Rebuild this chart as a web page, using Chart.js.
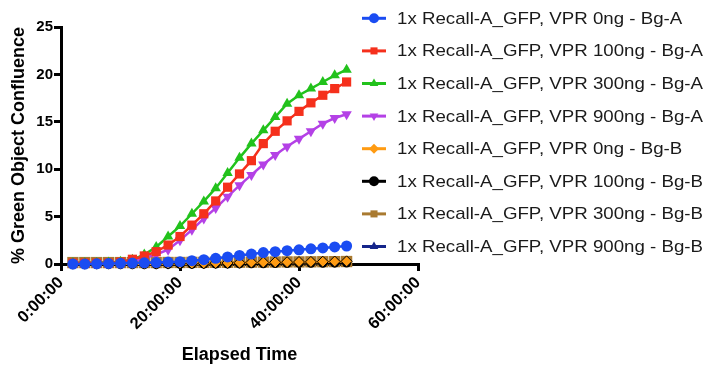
<!DOCTYPE html>
<html>
<head>
<meta charset="utf-8">
<script src="https://cdn.jsdelivr.net/npm/chart.js@4.4.0/dist/chart.umd.min.js"></script>
<style>
html,body{margin:0;padding:0;background:#fff;}
#wrap{width:704px;height:369px;position:relative;}
</style>
</head>
<body>
<div id="wrap"><canvas id="c" width="704" height="369"></canvas></div>
<script>
const hours = [2,4,6,8,10,12,14,16,18,20,22,24,26,28,30,32,34,36,38,40,42,44,46,48];
const seriesNames = [
  "1x Recall-A_GFP, VPR 0ng - Bg-A",
  "1x Recall-A_GFP, VPR 100ng - Bg-A",
  "1x Recall-A_GFP, VPR 300ng - Bg-A",
  "1x Recall-A_GFP, VPR 900ng - Bg-A",
  "1x Recall-A_GFP, VPR 0ng - Bg-B",
  "1x Recall-A_GFP, VPR 100ng - Bg-B",
  "1x Recall-A_GFP, VPR 300ng - Bg-B",
  "1x Recall-A_GFP, VPR 900ng - Bg-B"
];
const vpr0A   = [0.0,0.0,0.02,0.05,0.07,0.1,0.12,0.15,0.2,0.25,0.35,0.45,0.6,0.75,0.9,1.05,1.2,1.3,1.4,1.5,1.6,1.7,1.8,1.9];
const vpr100A = [0.1,0.1,0.1,0.1,0.2,0.5,0.85,1.3,2.0,2.9,4.1,5.3,6.65,8.1,9.5,10.9,12.7,14.0,15.1,16.1,17.0,17.8,18.5,19.2];
const vpr300A = [0.1,0.1,0.1,0.15,0.25,0.45,1.0,1.8,2.9,4.0,5.3,6.6,8.0,9.6,11.2,12.7,14.1,15.5,16.9,17.8,18.5,19.2,19.9,20.5];
const vpr900A = [0.1,0.1,0.1,0.1,0.15,0.3,0.6,1.0,1.5,2.5,3.6,4.8,5.9,7.1,8.3,9.4,10.5,11.5,12.4,13.2,14.0,14.8,15.4,15.8];
const vpr0B   = [0.03,0.03,0.03,0.03,0.03,0.03,0.03,0.03,0.04,0.05,0.06,0.08,0.1,0.11,0.13,0.15,0.16,0.18,0.19,0.21,0.22,0.24,0.26,0.28];
const vpr100B = [-0.05,-0.05,-0.05,-0.05,-0.05,-0.05,-0.05,-0.05,-0.04,-0.04,-0.03,-0.02,-0.01,0.0,0.01,0.02,0.03,0.04,0.05,0.06,0.07,0.08,0.09,0.1];
const vpr300B = [0.15,0.15,0.15,0.15,0.15,0.15,0.15,0.15,0.16,0.16,0.17,0.17,0.18,0.18,0.19,0.2,0.2,0.21,0.22,0.22,0.23,0.24,0.25,0.26];
const vpr900B = [0.0,0.0,0.0,0.0,0.0,0.0,0.0,0.0,0.0,0.01,0.01,0.01,0.02,0.02,0.02,0.03,0.03,0.03,0.04,0.04,0.05,0.05,0.06,0.06];
const yTicks = [0,5,10,15,20,25];
const xTicks = [0,20,40,60];

const allValues = [vpr0A,vpr100A,vpr300A,vpr900A,vpr0B,vpr100B,vpr300B,vpr900B];
const colors = ["#1a4cf2","#f5301c","#22c21c","#b441e6","#ff9b12","#000000","#a97a30","#15258a"];
const shapes = ["circle","rect","triangle","triangle","rectRot","circle","rect","triangle"];
const rotations = [0,0,0,180,0,0,0,0];
const radii = [5.5,6.5,6,6,5.5,4.5,8,5.5];

const datasets = allValues.map((vals,i)=>({
  label: seriesNames[i],
  data: vals.map((v,j)=>({x:hours[j], y:v})),
  borderColor: colors[i],
  backgroundColor: colors[i],
  borderWidth: 2.5,
  pointStyle: shapes[i],
  pointRotation: rotations[i],
  pointRadius: radii[i],
  pointBorderWidth: i===4 ? 1 : 0,
  pointBorderColor: i===4 ? "#000" : colors[i],
  tension: 0,
  clip: false
}));

const FONT = "'Liberation Sans', Arial, sans-serif";

const legendPlugin = {
  id: 'customLegend',
  afterDraw(chart){
    const ctx = chart.ctx;
    const x0 = 362, x1 = 386, tx = 397;
    const yStart = 18.3, dy = 32.6;
    ctx.save();
    chart.data.datasets.forEach((ds,i)=>{
      const y = yStart + dy*i;
      ctx.strokeStyle = ds.borderColor;
      ctx.lineWidth = 3;
      ctx.beginPath(); ctx.moveTo(x0,y); ctx.lineTo(x1,y); ctx.stroke();
      ctx.fillStyle = ds.backgroundColor;
      ctx.strokeStyle = ds.backgroundColor;
      Chart.helpers.drawPoint(ctx, {pointStyle: ds.pointStyle, rotation: ds.pointRotation, radius: 5, borderWidth: 0}, (x0+x1)/2, y);
      ctx.save();
      ctx.translate(tx, y + 1);
      ctx.scale(1.14, 1);
      ctx.fillStyle = "#1a1a1a";
      ctx.font = "16.4px " + FONT;
      ctx.textBaseline = "middle";
      ctx.textAlign = "left";
      ctx.fillText(ds.label, 0, 0);
      ctx.restore();
    });
    ctx.restore();
  }
};

new Chart(document.getElementById('c'), {
  type: 'line',
  data: { datasets },
  options: {
    responsive: false,
    animation: false,
    layout: { padding: { left: 0, top: 27, right: 286, bottom: 0 } },
    plugins: { legend: { display: false }, tooltip: { enabled: false } },
    scales: {
      x: {
        type: 'linear', min: 0, max: 60,
        afterBuildTicks(s){ s.ticks = xTicks.map(v=>({value:v})); },
        afterFit(s){ s.height = 105; },
        ticks: {
          color: '#000', maxRotation: 45, minRotation: 45, padding: 2,
          font: { family: FONT, size: 16.5, weight: 'bold' },
          callback: v => v + ':00:00'
        },
        grid: { display: true, drawOnChartArea: false, drawTicks: true, tickLength: 7, color: '#000', lineWidth: 3 },
        border: { display: true, color: '#000', width: 3 },
        title: { display: true, text: 'Elapsed Time', color: '#000', padding: {top: 0, bottom: 3},
          font: { family: FONT, size: 18, weight: 'bold' } }
      },
      y: {
        min: 0, max: 25,
        afterBuildTicks(s){ s.ticks = yTicks.map(v=>({value:v})); },
        afterFit(s){ s.width = 61; },
        ticks: {
          color: '#000', padding: 1,
          font: { family: FONT, size: 15, weight: 'bold' }
        },
        grid: { display: true, drawOnChartArea: false, drawTicks: true, tickLength: 7, color: '#000', lineWidth: 3 },
        border: { display: true, color: '#000', width: 3 },
        title: { display: true, text: '% Green Object Confluence', color: '#000', padding: {top: 8, bottom: 0},
          font: { family: FONT, size: 18, weight: 'bold' } }
      }
    }
  },
  plugins: [legendPlugin]
});
</script>
</body>
</html>
